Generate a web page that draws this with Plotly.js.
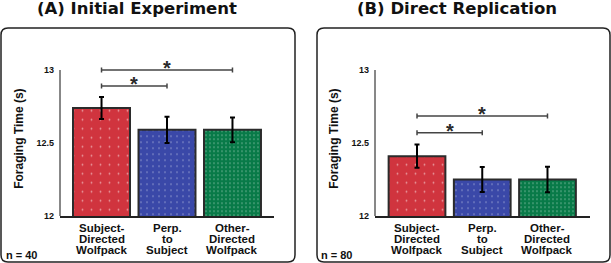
<!DOCTYPE html>
<html><head><meta charset="utf-8">
<script src="https://cdn.plot.ly/plotly-3.0.1.min.js"></script>
<style>html,body{margin:0;padding:0;background:#fff}#chart{width:611px;height:263px}</style>
</head><body><div id="chart"></div>
<script>
// ---- data ----
const categories = ["Subject-Directed Wolfpack", "Perp. to Subject", "Other-Directed Wolfpack"];
const categoryLines = [["Subject-", "Directed", "Wolfpack"], ["Perp.", "to", "Subject"], ["Other-", "Directed", "Wolfpack"]];
const panelTitles = ["(A) Initial Experiment", "(B) Direct Replication"];
const sampleSizes = ["n = 40", "n = 80"];
const initialMeans = [12.74, 12.59, 12.59];
const initialErrors = [0.075, 0.09, 0.085];
const replicationMeans = [12.41, 12.25, 12.25];
const replicationErrors = [0.08, 0.085, 0.087];
const initialBrackets = [[0, 2, 13.0], [0, 1, 12.89]];
const replicationBrackets = [[0, 2, 12.685], [0, 1, 12.57]];
const sigLabel = "*";
const yTickVals = [12, 12.5, 13];
const yTickText = ["12", "12.5", "13"];
const yAxisTitle = "Foraging Time (s)";

// ---- style / layout ----
const W = 611, H = 263;
const barColors = ["#d0343e", "#3a48a8", "#087a48"];
const dotColors = ["#9aa896", "#4f8058", "#05643a"];
const px = v => v / W, py = v => 1 - v / H;
const SANS = "Liberation Sans, Arial, sans-serif";
const TITLEF = "DejaVu Sans, sans-serif";

function barTrace(means, errs, xa, ya) {
  return {
    type: "bar", x: categories, y: means, xaxis: xa, yaxis: ya,
    marker: {
      color: barColors,
      line: {color: "#2b2b2b", width: 2},
      pattern: {shape: ".", fillmode: "overlay", fgcolor: dotColors, size: [9, 6, 4], solidity: [0.03, 0.05, 0.1]}
    },
    error_y: {type: "data", array: errs, visible: true, color: "#000", thickness: 2, width: 2.5},
    hoverinfo: "skip", showlegend: false
  };
}

function rrect(x0, y0, x1, y1, r) {
  const rx = r / W, ry = r / H;
  const X0 = px(x0), X1 = px(x1), Y0 = py(y0), Y1 = py(y1);
  return `M${X0 + rx},${Y0} L${X1 - rx},${Y0} Q${X1},${Y0} ${X1},${Y0 - ry} L${X1},${Y1 + ry} Q${X1},${Y1} ${X1 - rx},${Y1} L${X0 + rx},${Y1} Q${X0},${Y1} ${X0},${Y1 + ry} L${X0},${Y0 - ry} Q${X0},${Y0} ${X0 + rx},${Y0} Z`;
}

const shapes = [
  {type: "path", xref: "paper", yref: "paper", path: rrect(1, 28, 295, 262, 7), line: {color: "#222", width: 1.5}},
  {type: "path", xref: "paper", yref: "paper", path: rrect(317, 28, 610, 262, 7), line: {color: "#222", width: 1.5}}
];
[["x", "y"], ["x2", "y2"]].forEach(([xa, ya]) => {
  shapes.push({type: "line", xref: xa + " domain", yref: ya, x0: 0, x1: 0, y0: yTickVals[0], y1: yTickVals[yTickVals.length - 1], line: {color: "#111", width: 1}});
});
const annotations = [];
const capH = 0.017;
function addBrackets(list, xa, ya) {
  list.forEach(([a, b, lvl]) => {
    shapes.push({type: "line", xref: xa, yref: ya, x0: a, x1: b, y0: lvl, y1: lvl, line: {color: "#444", width: 1.5}});
    shapes.push({type: "line", xref: xa, yref: ya, x0: a, x1: a, y0: lvl - capH, y1: lvl + capH, line: {color: "#444", width: 1.5}});
    shapes.push({type: "line", xref: xa, yref: ya, x0: b, x1: b, y0: lvl - capH, y1: lvl + capH, line: {color: "#444", width: 1.5}});
    annotations.push({xref: xa, yref: ya, x: (a + b) / 2, y: lvl, text: sigLabel, showarrow: false, yanchor: "bottom", yshift: -11,
      font: {family: SANS, size: 20, color: "#2a2a2a", weight: 700}});
  });
}

annotations.push({xref: "paper", yref: "paper", x: px(136.7), y: py(8), text: panelTitles[0], showarrow: false, xanchor: "center", yanchor: "middle", font: {family: TITLEF, size: 16.5, color: "#111", weight: 700}});
annotations.push({xref: "paper", yref: "paper", x: px(456.7), y: py(8), text: panelTitles[1], showarrow: false, xanchor: "center", yanchor: "middle", font: {family: TITLEF, size: 16.5, color: "#111", weight: 700}});
annotations.push({xref: "paper", yref: "paper", x: px(4), y: py(254.5), text: sampleSizes[0], showarrow: false, xanchor: "left", yanchor: "middle", font: {family: SANS, size: 11, color: "#111", weight: 700}});
annotations.push({xref: "paper", yref: "paper", x: px(319), y: py(254.5), text: sampleSizes[1], showarrow: false, xanchor: "left", yanchor: "middle", font: {family: SANS, size: 11, color: "#111", weight: 700}});
const lineY = [228.2, 239.0, 249.7];
["x", "x2"].forEach(xa => {
  categoryLines.forEach((lines, ci) => {
    lines.forEach((t, li) => {
      annotations.push({xref: xa, yref: "paper", x: ci, y: py(lineY[li]), text: t, showarrow: false, xanchor: "center", yanchor: "middle",
        font: {family: SANS, size: 11.5, color: "#111", weight: 700}});
    });
  });
});
addBrackets(initialBrackets, "x", "y");
addBrackets(replicationBrackets, "x2", "y2");

const yDomain = [1 - 216 / H, 1 - 61.24 / H];
function yAxis() {
  return {
    domain: yDomain, range: [12, 13.06], tickvals: yTickVals, ticktext: yTickText,
    tickfont: {family: SANS, size: 9, color: "#111", weight: 700},
    showline: false, showgrid: false, zeroline: false, ticks: "", ticklabelstandoff: 5,
    title: {text: yAxisTitle, font: {family: SANS, size: 12, color: "#111", weight: 700}, standoff: 10},
    fixedrange: true
  };
}
function xAxis(dom, rng) {
  return {domain: dom, range: rng, showticklabels: false, ticks: "", showline: true, linecolor: "#222", linewidth: 1.5,
    showgrid: false, zeroline: false, fixedrange: true};
}

const layout = {
  width: W, height: H, margin: {l: 0, r: 0, t: 0, b: 0},
  paper_bgcolor: "#fff", plot_bgcolor: "rgba(0,0,0,0)",
  bargap: 0.13, showlegend: false,
  xaxis: Object.assign(xAxis([60 / W, 274 / W], [-0.634, 2.634]), {anchor: "y"}),
  yaxis: Object.assign(yAxis(), {anchor: "x"}),
  xaxis2: Object.assign(xAxis([375 / W, 589.5 / W], [-0.644, 2.644]), {anchor: "y2"}),
  yaxis2: Object.assign(yAxis(), {anchor: "x2"}),
  shapes: shapes, annotations: annotations
};

Plotly.newPlot("chart", [
  barTrace(initialMeans, initialErrors, "x", "y"),
  barTrace(replicationMeans, replicationErrors, "x2", "y2")
], layout, {staticPlot: true});
</script></body></html>
